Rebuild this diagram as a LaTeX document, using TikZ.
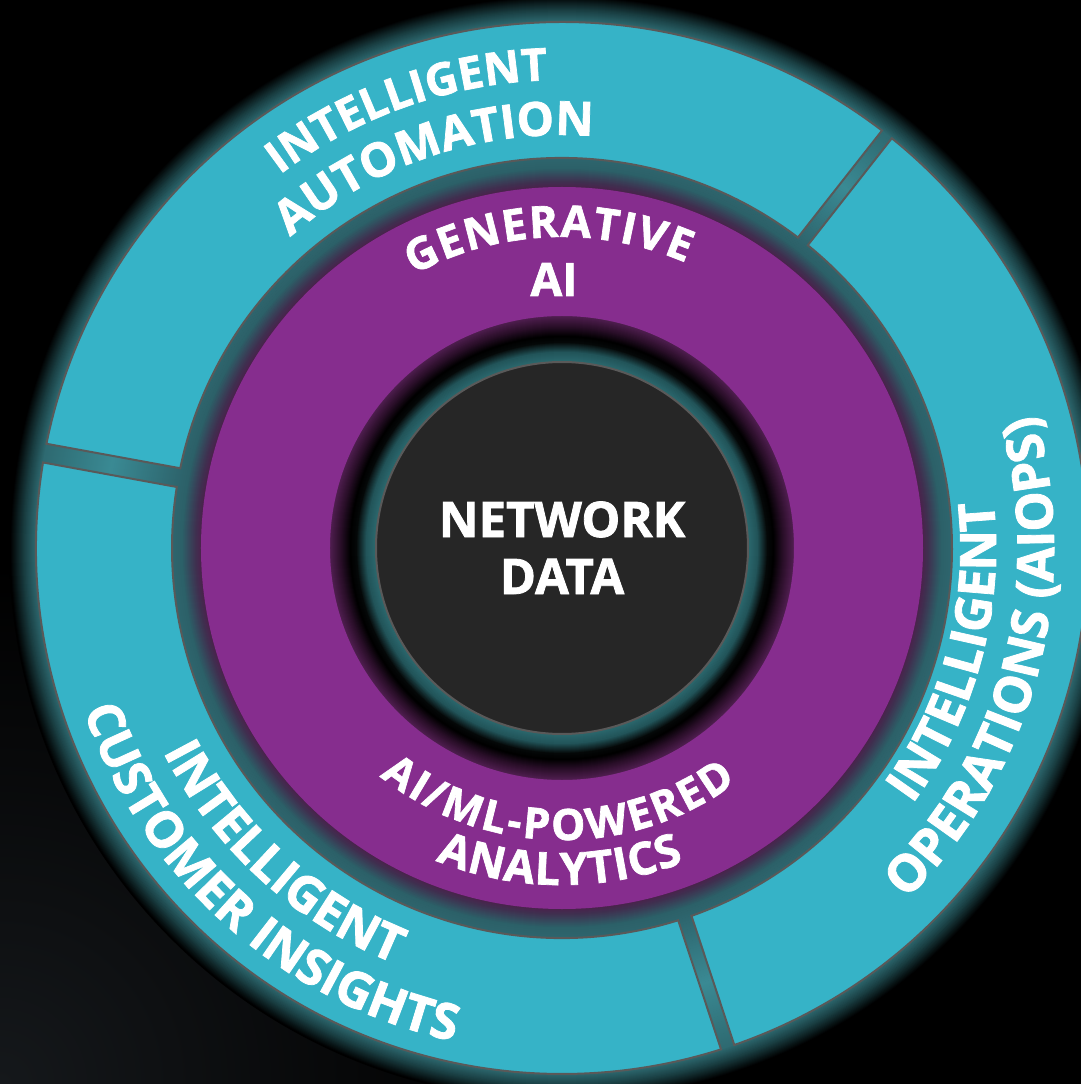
\documentclass[tikz,border=0pt]{standalone}
\usepackage{fontspec}
\setmainfont{Open Sans}[BoldFeatures={FakeBold=1.6}]
\usetikzlibrary{decorations.text}
\definecolor{ringteal}{HTML}{36B3C7}
\definecolor{ringpurple}{HTML}{862D8E}
\definecolor{coregray}{HTML}{262626}
\definecolor{edgegray}{HTML}{595959}
\definecolor{bgcorner}{HTML}{15181B}
\definecolor{gA}{HTML}{2E6E74}
\definecolor{gB}{HTML}{22555A}
\definecolor{gC}{HTML}{050808}
\definecolor{gD}{HTML}{2A0F29}
\definecolor{gE}{HTML}{521F52}
\definecolor{gF}{HTML}{4D1F4B}
\definecolor{gG}{HTML}{3F3150}
\definecolor{gH}{HTML}{2C6068}
\definecolor{gI}{HTML}{3A8A94}
\definecolor{gJ}{HTML}{2E6A71}
\definecolor{gK}{HTML}{1A3F43}
\newcommand{\tf}[1]{\fontsize{#1}{#1}\selectfont\bfseries}
\newcommand{\gband}[4]{%
  \pgfmathtruncatemacro{\gn}{#2-#1}%
  \foreach \k in {0,...,\gn}{%
    \pgfmathsetmacro{\gp}{100*\k/\gn}%
    \pgfmathsetmacro{\gr}{#1+\k}%
    \draw[line width=1.6pt, color=#4!\gp!#3] (0,0) circle[radius=\gr pt];
  }%
}
\tikzset{
  segment/.style={fill=ringteal, draw=edgegray, line width=2pt},
  arctext/.style={decorate, decoration={text along path, text={#1}, text align=center, text color=white}},
  fittext/.style={decorate, decoration={text along path, text={#1}, text align=fit to path, text color=white}},
  plain/.style={text=white, font=\tf{49pt}, inner sep=0pt, anchor=base}
}
\begin{document}
\begin{tikzpicture}
\useasboundingbox (-562pt,-536pt) rectangle (519pt,548pt);
\clip (-562pt,-536pt) rectangle (519pt,548pt);
\fill[black] (-562pt,-536pt) rectangle (519pt,548pt);
\shade[inner color=bgcorner, outer color=black] (-562pt,-536pt) circle[radius=520pt];
% glows
\gband{184}{196}{gA}{gB}
\gband{196}{206}{gB}{gC}
\gband{206}{212}{gC}{black}
\gband{212}{222}{black}{gD}
\gband{222}{233}{gD}{gE}
\gband{360}{367}{gF}{gG}
\gband{367}{380}{gG}{gH}
\gband{380}{458}{gH}{gI}
\gband{458}{526}{gI}{gJ}
\gband{526}{538}{gJ}{gK}
\gband{538}{552}{gK}{black}
% outer segments
\path[segment] (52.53:526pt) arc[start angle=52.53, end angle=168.57, radius=526pt]
  -- (168.20:390pt) arc[start angle=168.20, end angle=52.77, radius=390pt] -- cycle;
\path[segment] (170.64:526pt) arc[start angle=170.64, end angle=287.60, radius=526pt]
  -- (287.33:390pt) arc[start angle=287.33, end angle=171.00, radius=390pt] -- cycle;
\path[segment] (289.12:526pt) arc[start angle=289.12, end angle=411.17, radius=526pt]
  -- (410.93:390pt) arc[start angle=410.93, end angle=289.39, radius=390pt] -- cycle;
% purple ring
\fill[ringpurple, even odd rule] (0,0) circle[radius=361pt] (0,0) circle[radius=232pt];
% core
\fill[coregray, draw=edgegray, line width=2pt] (0,0) circle[radius=186pt];
\node[plain] (netA) at (0pt,11pt) {NETWORK};
\node[plain] (netB) at (0pt,-46pt) {DATA};
% purple ring texts
\path[fittext={|\tf{44pt}|GENERATIVE}] (118.5:311pt) arc[start angle=118.5, end angle=66.5, radius=311pt];
\node[plain, font=\tf{46pt}] (aiNode) at (-8pt,252pt) {AI};
\path[fittext={|\tf{43pt}|AI/ML-POWERED}] (231.4:292pt) arc[start angle=231.4, end angle=306.7, radius=292pt];
\path[fittext={|\tf{45pt}|ANALYTICS}] (248:337pt) arc[start angle=248, end angle=291.2, radius=337pt];
% automation
\path[arctext={|\tf{45pt}|INTELLIGENT}] (159.4:468pt) arc[start angle=159.4, end angle=59.4, radius=468pt];
\path[arctext={|\tf{47pt}|AUTOMATION}] (158.4:413pt) arc[start angle=158.4, end angle=58.4, radius=413pt];
% customer insights
\path[arctext={|\tf{50pt}|INTELLIGENT}] (177.6:448pt) arc[start angle=177.6, end angle=277.6, radius=448pt];
\path[arctext={|\tf{50pt}|CUSTOMER INSIGHTS}] (178.2:505pt) arc[start angle=178.2, end angle=278.2, radius=505pt];
% operations
\path[arctext={|\tf{50pt}|INTELLIGENT}] (295:434pt) arc[start angle=295, end angle=395, radius=434pt];
\path[arctext={|\tf{51pt}|OPERATIONS (AIOPS)}] (295.1:492pt) arc[start angle=295.1, end angle=395.1, radius=492pt];
\end{tikzpicture}
\end{document}
